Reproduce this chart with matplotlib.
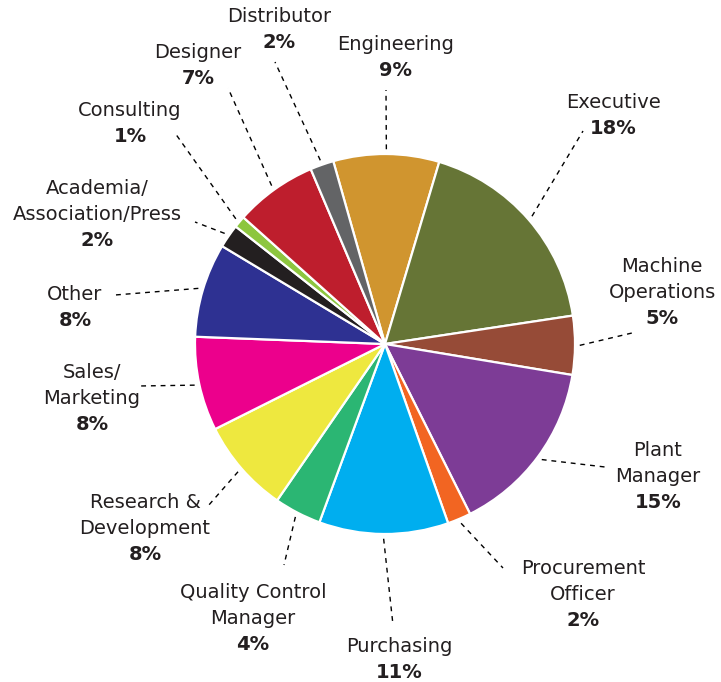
import numpy as np
import matplotlib
matplotlib.use("Agg")
import matplotlib.pyplot as plt

categories = ["Engineering", "Executive", "Machine\nOperations", "Plant\nManager",
              "Procurement\nOfficer", "Purchasing", "Quality Control\nManager",
              "Research &\nDevelopment", "Sales/\nMarketing", "Other",
              "Academia/\nAssociation/Press", "Consulting", "Designer", "Distributor"]
values = [9, 18, 5, 15, 2, 11, 4, 8, 8, 8, 2, 1, 7, 2]
colors = ["#D0952F", "#667536", "#964B37", "#7D3C96", "#F26522", "#00AEEF", "#2BB673",
          "#EEE83F", "#EC008C", "#2E3192", "#231F20", "#8DC63F", "#BE1E2D", "#636466"]

# label placement (pixel coords, top-left origin): text center of first line, leader-line end
label_pos = [(396, 44), (613, 103), (662, 267), (658, 450), (583, 569), (399, 646),
             (253, 592), (145, 502), (92, 373), (75, 294), (97, 188), (130, 110),
             (198, 53), (279, 17)]
line_end = [(386, 90), (583, 131), (632, 333), (605, 467), (503, 568), (393, 625),
            (284, 565), (208, 506), (138, 386), (115, 295), (195, 222), (175, 133),
            (228, 88), (275, 62)]

W, H = 721, 682
fig = plt.figure(figsize=(W / 100, H / 100), dpi=100)
ax = fig.add_axes([0, 0, 1, 1])

def Y(py):
    return H - py

cx, cy, R = 385, Y(344), 190
wedges, _ = ax.pie(values, colors=colors, startangle=105.8, counterclock=False,
                   center=(cx, cy), radius=R, frame=True,
                   wedgeprops=dict(edgecolor="white", linewidth=1.6))
ax.set_xlim(0, W)
ax.set_ylim(0, H)
ax.set_aspect("equal")
ax.axis("off")

txt_color = "#231F20"
fs = 14
lh = 26
for w, name, v, (lx, ly), (ex, ey) in zip(wedges, categories, values, label_pos, line_end):
    mid = np.deg2rad((w.theta1 + w.theta2) / 2)
    sx, sy = cx + R * 1.025 * np.cos(mid), cy + R * 1.025 * np.sin(mid)
    ax.plot([sx, ex], [sy, Y(ey)], color="black", lw=1.0, ls=(0, (3.5, 3.5)))
    lines = name.split("\n")
    for i, ln in enumerate(lines):
        ax.text(lx, Y(ly + i * lh), ln, ha="center", va="center", fontsize=fs,
                color=txt_color, family="DejaVu Sans")
    ax.text(lx, Y(ly + len(lines) * lh), f"{v}%", ha="center", va="center",
            fontsize=fs, fontweight="bold", color=txt_color, family="DejaVu Sans")

fig.savefig("out.png", dpi=100, facecolor="white")
